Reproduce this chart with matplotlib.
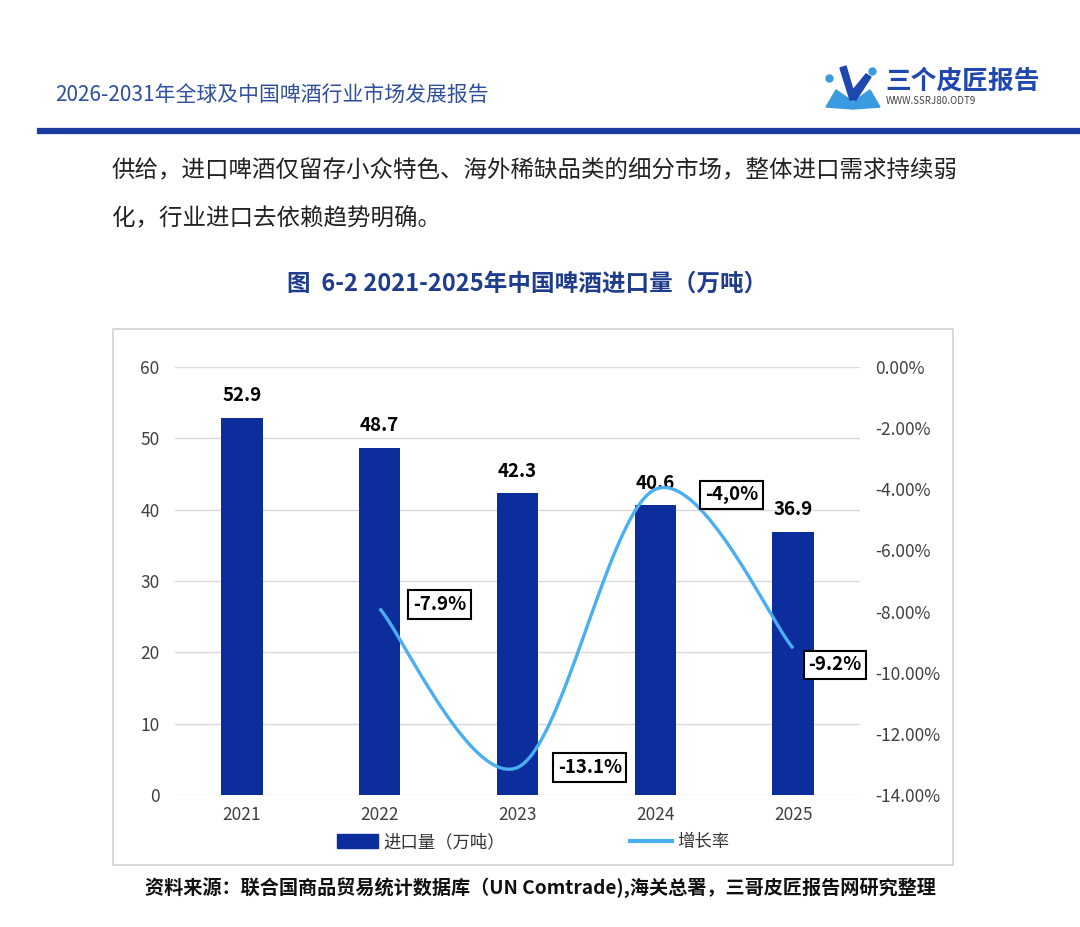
import numpy as np
import matplotlib
matplotlib.use('Agg')
import matplotlib.pyplot as plt
from matplotlib.patches import Rectangle, Polygon
from matplotlib.lines import Line2D

plt.rcParams['font.family'] = ['Noto Sans CJK SC', 'DejaVu Sans']

# 数据
years = ['2021', '2022', '2023', '2024', '2025']
volume = [52.9, 48.7, 42.3, 40.6, 36.9]          # 进口量（万吨）
growth_years = [1, 2, 3, 4]                      # 2022-2025
growth = [-7.9, -13.1, -4.0, -9.2]               # 增长率 %
growth_labels = ['-7.9%', '-13.1%', '-4,0%', '-9.2%']
left_ticks = [0, 10, 20, 30, 40, 50, 60]
right_ticks = [0, -2, -4, -6, -8, -10, -12, -14]

bar_color = '#0b2e9c'
line_color = '#4aaef2'
W, H = 1080, 927


def fx(px):
    return px / W


def fy(py):
    return 1 - py / H


def smooth(xs, ys, n=40):
    # wygładzona linia (Bezier jak w Excelu)
    pts = np.column_stack([xs, ys]).astype(float)
    p = np.vstack([pts[0], pts, pts[-1]])
    out = []
    for i in range(1, len(p) - 2):
        p0, p1, p2, p3 = p[i - 1], p[i], p[i + 1], p[i + 2]
        c1 = p1 + (p2 - p0) / 6
        c2 = p2 - (p3 - p1) / 6
        t = np.linspace(0, 1, n)[:, None]
        seg = ((1 - t) ** 3) * p1 + 3 * ((1 - t) ** 2) * t * c1 + 3 * (1 - t) * t ** 2 * c2 + t ** 3 * p2
        out.append(seg if i == 1 else seg[1:])
    out = np.vstack(out)
    return out[:, 0], out[:, 1]


fig = plt.figure(figsize=(10.8, 9.27), dpi=100)

# nagłówek strony
fig.text(fx(55), fy(96), '2026-2031年全球及中国啤酒行业市场发展报告', fontsize=15,
         color='#2f4f9e', va='center', ha='left')
fig.add_artist(Line2D([fx(40), fx(1080)], [fy(131), fy(131)], color='#1b3c9e', lw=4.5))

# logo
fig.add_artist(Polygon([[fx(826), fy(107)], [fx(836), fy(90)], [fx(852), fy(101)], [fx(853), fy(109)]],
                       closed=True, color='#3a9be0'))
fig.add_artist(Polygon([[fx(880), fy(107)], [fx(870), fy(90)], [fx(854), fy(101)], [fx(853), fy(109)]],
                       closed=True, color='#3a9be0'))
fig.add_artist(Polygon([[fx(840), fy(68)], [fx(846), fy(66)], [fx(853), fy(90)], [fx(866), fy(74)],
                        [fx(871), fy(77)], [fx(856), fy(100)], [fx(850), fy(100)]],
                       closed=True, color='#1f47b0'))
fig.add_artist(Line2D([fx(829)], [fy(78)], marker='o', ms=5, color='#3a9be0'))
fig.add_artist(Line2D([fx(872)], [fy(71)], marker='o', ms=5, color='#3a9be0'))
fig.text(fx(885), fy(81), '三个皮匠报告', fontsize=18.5, fontweight='bold', color='#1f47b0',
         va='center', ha='left')
fig.text(fx(886), fy(101), 'WWW.SSRJ80.ODT9', fontsize=7, color='#444444',
         va='center', ha='left')

# tekst akapitu
fig.text(fx(112), fy(170), '供给，进口啤酒仅留存小众特色、海外稀缺品类的细分市场，整体进口需求持续弱',
         fontsize=16.9, color='#222222', va='center', ha='left')
fig.text(fx(112), fy(218), '化，行业进口去依赖趋势明确。',
         fontsize=16.9, color='#222222', va='center', ha='left')

# tytuł wykresu
fig.text(fx(527), fy(284), '图  6-2 2021-2025年中国啤酒进口量（万吨）', fontsize=17,
         fontweight='bold', color='#1f3d8c', va='center', ha='center')

# ramka wykresu
fig.add_artist(Rectangle((fx(113), fy(865)), fx(953) - fx(113), fy(329) - fy(865),
                         fill=False, edgecolor='#d3d3d3', lw=1.2))

ax = fig.add_axes([fx(175), fy(795), fx(860) - fx(175), fy(367) - fy(795)])
x = np.arange(len(years))
ax.bar(x, volume, width=0.30, color=bar_color, zorder=2)
for xi, v in zip(x, volume):
    ax.annotate(f'{v:.1f}', (xi, v), xytext=(0, 16), textcoords='offset points',
                ha='center', va='center', fontsize=13.5, fontweight='bold', color='black')
ax.set_ylim(0, 60)
ax.set_xlim(-0.485, 4.485)
ax.set_yticks(left_ticks)
ax.set_xticks(x)
ax.set_xticklabels(years)
ax.grid(axis='y', color='#d9d9d9', lw=1, zorder=0)
ax.tick_params(axis='y', length=0, pad=11, labelsize=12.5, labelcolor='#404040')
ax.tick_params(axis='x', length=0, pad=8, labelsize=12.5, labelcolor='#404040')
for s in ax.spines.values():
    s.set_visible(False)

ax2 = ax.twinx()
sx, sy = smooth(growth_years, growth)
ax2.plot(sx, sy, color=line_color, lw=2.4, zorder=3, solid_capstyle='butt')
ax2.set_ylim(-14, 0)
ax2.set_yticks(right_ticks)
ax2.set_yticklabels([f'{t:.2f}%' for t in right_ticks])
ax2.tick_params(axis='y', length=0, pad=11, labelsize=12.5, labelcolor='#404040')
for s in ax2.spines.values():
    s.set_visible(False)

offsets = [(43, 3), (52, 0), (55, -4), (30, -12)]
for gx, gv, lab, off in zip(growth_years, growth, growth_labels, offsets):
    ax2.annotate(lab, (gx, gv), xytext=off, textcoords='offset points', ha='center', va='center',
                 fontsize=13.5, fontweight='bold', color='black', zorder=5,
                 bbox=dict(boxstyle='square,pad=0.25', fc='white', ec='black', lw=1.5))

# legenda
handles = [Rectangle((0, 0), 1, 1, color=bar_color), Line2D([0], [0], color=line_color, lw=3)]
fig.legend(handles, ['进口量（万吨）', '增长率'], loc='center', bbox_to_anchor=(fx(533), fy(842)),
           ncol=2, frameon=False, fontsize=12.5, handlelength=2.4, handleheight=0.8,
           handletextpad=0.3, columnspacing=7.2, labelcolor='#333333')

# źródło
fig.text(fx(540), fy(888), '资料来源：联合国商品贸易统计数据库（UN Comtrade),海关总署，三哥皮匠报告网研究整理',
         fontsize=13.8, fontweight='bold', color='#111111', va='center', ha='center')

fig.savefig('out.png', dpi=100)
